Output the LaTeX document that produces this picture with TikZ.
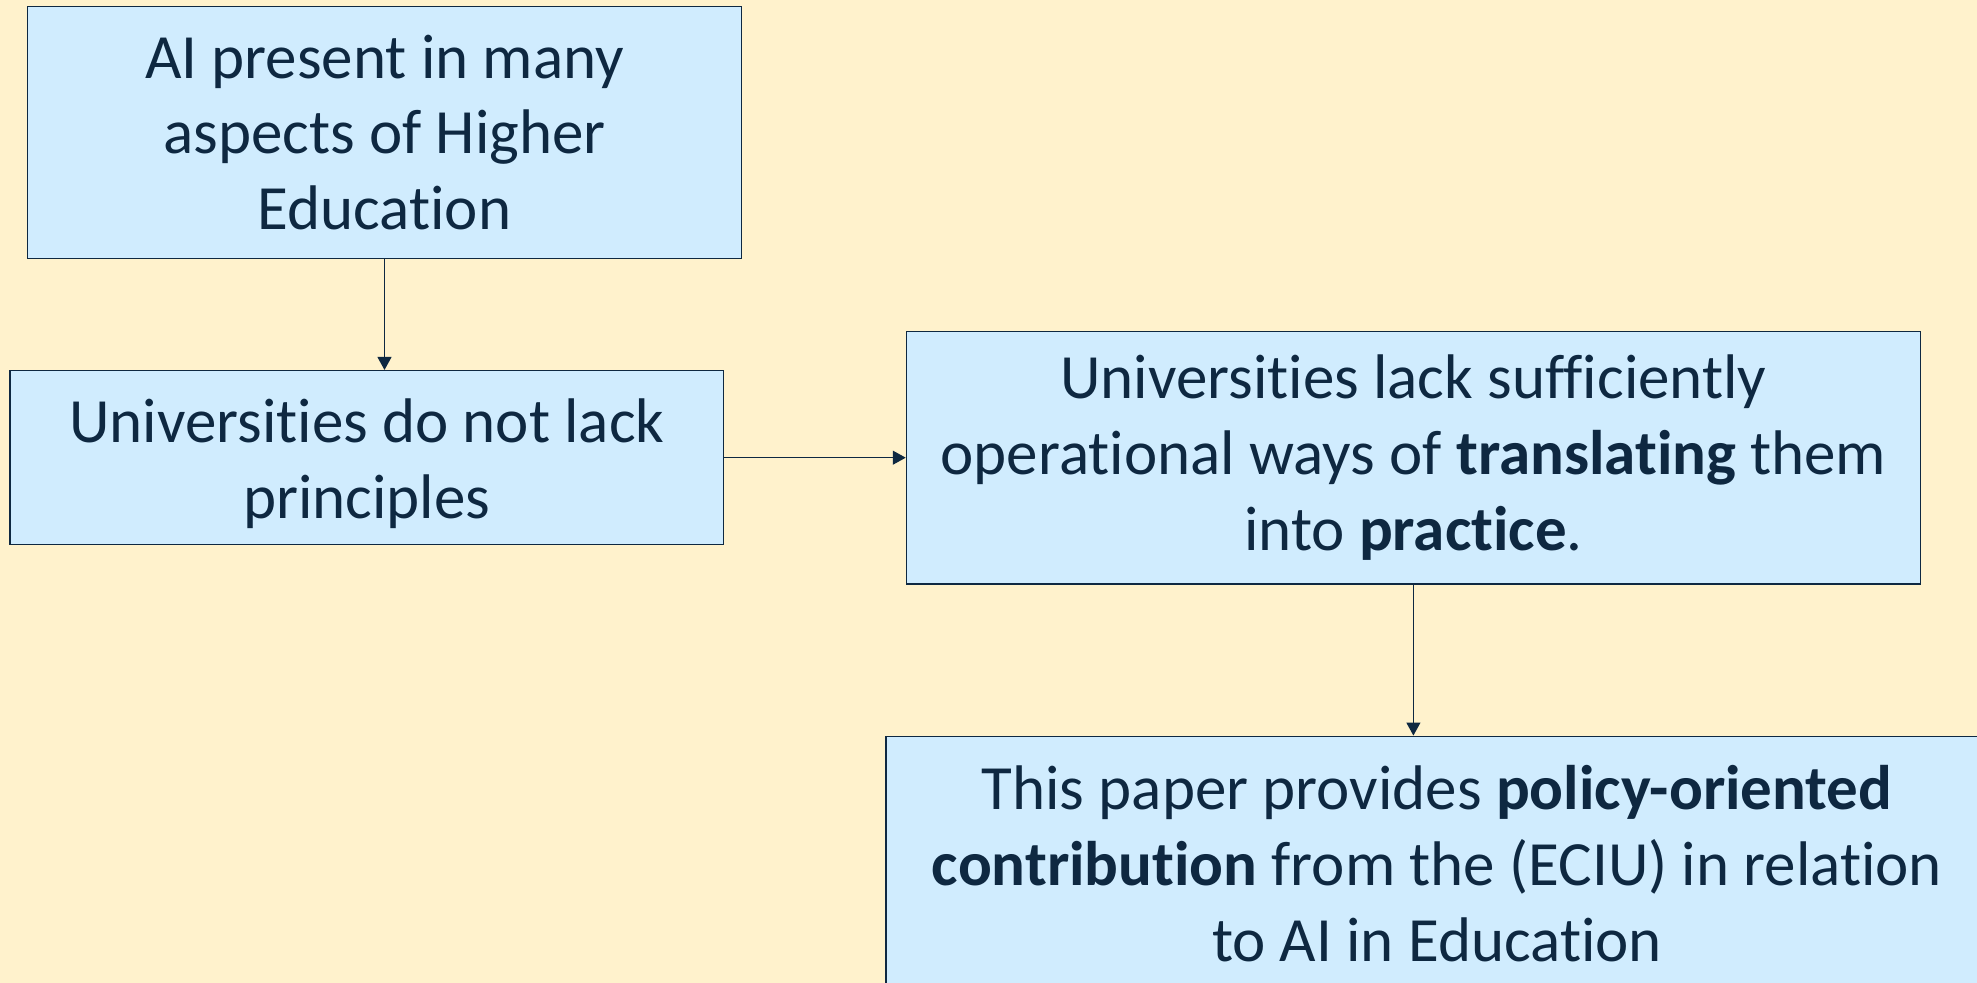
\documentclass[tikz,border=0pt]{standalone}
\usepackage{fontspec}
\setmainfont{Carlito}[Ligatures=NoCommon]
\usepackage{xcolor}
\usepackage{tikz}
\usetikzlibrary{calc,arrows.meta}
\definecolor{bg}{HTML}{FFF2CC}
\definecolor{boxbg}{HTML}{D0ECFE}
\definecolor{ink}{HTML}{0E2841}
\tikzset{
  box/.style={draw=ink, fill=boxbg, line width=0.75pt, text=ink, align=center, inner sep=0pt,
    font=\fontsize{31.5}{37.85}\selectfont},
  link/.style={draw=ink, line width=0.6pt, -{Triangle[length=6.5pt,width=7pt]}},
}

\begin{document}
\begin{tikzpicture}[x=0.5pt,y=-0.5pt]
  \path[use as bounding box, fill=bg] (0,0) rectangle (1977,983);
  \node[box, minimum width=356.9pt, minimum height=126.1pt] (ai) at (384.5,132.4)
    {AI present in many\\aspects of Higher\\Education};
  \node[box, minimum width=356.8pt, minimum height=87pt] (principles) at (366.9,457.7)
    {\rule{0pt}{28pt}Universities do not lack\\principles};
  \node[box, minimum width=506.9pt, minimum height=126.1pt] (practice) at (1413.4,457.7)
    {Universities lack sufficiently\\operational ways of \textbf{translating} them\\into \textbf{practice}.};
  \node[box, minimum width=550.8pt, minimum height=127.4pt] (paper) at (1437,863.7)
    {This paper provides \textbf{policy-oriented}\\\textbf{contribution} from the (ECIU) in relation\\to AI in Education};
  \draw[link] (ai.south) -- (ai.south |- principles.north);
  \draw[link] (principles.east) -- (practice.west);
  \draw[link] (practice.south) -- (practice.south |- paper.north);
\end{tikzpicture}
\end{document}
